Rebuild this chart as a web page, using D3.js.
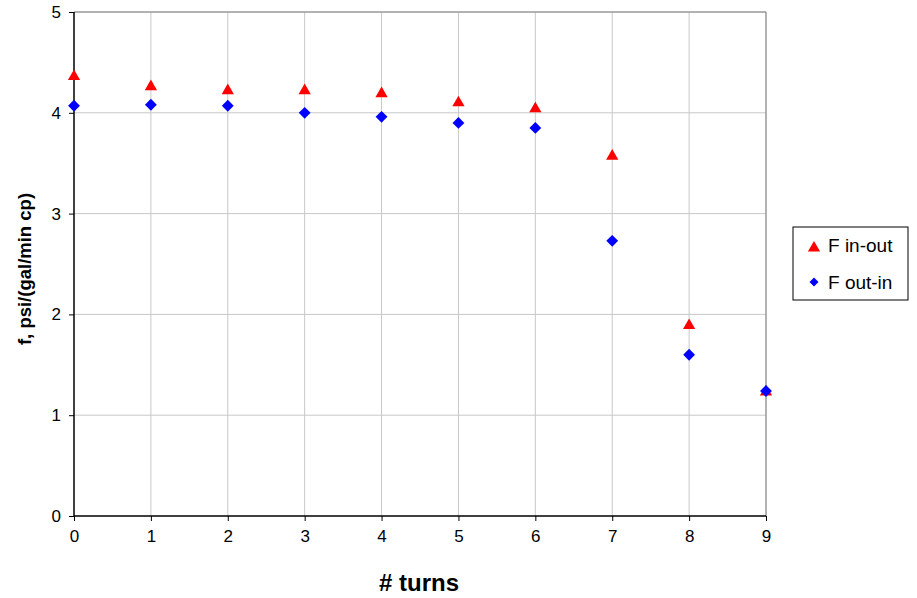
<html>
<head>
<script src="https://d3js.org/d3.v7.min.js"></script>
<style>body{margin:0;background:#fff;font-family:"Liberation Sans",Arial,sans-serif;}</style>
</head>
<body>
<svg id="chart" width="917" height="598" font-family="Liberation Sans, Arial, sans-serif"></svg>
<script>
var turns = [0, 1, 2, 3, 4, 5, 6, 7, 8, 9];
var fInOut = [4.35, 4.25, 4.21, 4.21, 4.18, 4.09, 4.03, 3.56, 1.88, 1.22];
var fOutIn = [4.07, 4.08, 4.07, 4.00, 3.96, 3.90, 3.85, 2.73, 1.60, 1.24];
var xTicks = [0, 1, 2, 3, 4, 5, 6, 7, 8, 9];
var yTicks = [0, 1, 2, 3, 4, 5];

var svg = d3.select("#chart");
var margin = {top: 12, right: 151, bottom: 82, left: 74},
    width = 917 - margin.left - margin.right,
    height = 598 - margin.top - margin.bottom;

var g = svg.append("g").attr("transform", "translate(" + margin.left + "," + margin.top + ")");

var x = d3.scaleLinear().domain([0, 9]).range([0, width]);
var y = d3.scaleLinear().domain([0, 5]).range([height, 0]);

// grid
g.selectAll(".vgrid").data(xTicks.slice(1)).enter().append("line")
    .attr("x1", function (d) {return x(d);}).attr("x2", function (d) {return x(d);})
    .attr("y1", 0).attr("y2", height)
    .attr("stroke", "#c8c8c8").attr("stroke-width", 1);
g.selectAll(".hgrid").data(yTicks.slice(1)).enter().append("line")
    .attr("y1", function (d) {return y(d);}).attr("y2", function (d) {return y(d);})
    .attr("x1", 0).attr("x2", width)
    .attr("stroke", "#c8c8c8").attr("stroke-width", 1);

// frame top/right
g.append("line").attr("x1", 0).attr("x2", width).attr("y1", 0).attr("y2", 0)
    .attr("stroke", "#808080").attr("stroke-width", 1);
g.append("line").attr("x1", width).attr("x2", width).attr("y1", 0).attr("y2", height)
    .attr("stroke", "#808080").attr("stroke-width", 1);

// axes
var xAxis = d3.axisBottom(x).tickValues(xTicks).tickSize(5).tickPadding(9).tickFormat(d3.format("d"));
var yAxis = d3.axisLeft(y).tickValues(yTicks).tickSize(5).tickPadding(8).tickFormat(d3.format("d"));

var gx = g.append("g").attr("transform", "translate(0," + height + ")").call(xAxis);
var gy = g.append("g").call(yAxis);
[gx, gy].forEach(function (a) {
    a.attr("font-family", null);
    a.select(".domain").attr("stroke", "#000").attr("stroke-width", 1.5);
    a.selectAll(".tick line").attr("stroke", "#000");
    a.selectAll(".tick text").attr("fill", "#000").style("font-size", "17px");
});
gx.select(".domain").attr("d", "M0,0H" + width);
gy.select(".domain").attr("d", "M0," + height + "V0");

// labels
svg.append("text")
    .attr("x", 419).attr("y", 591)
    .attr("text-anchor", "middle")
    .attr("font-weight", "bold").attr("font-size", 24)
    .text("# turns");
svg.append("text")
    .attr("transform", "translate(31,269) rotate(-90)")
    .attr("text-anchor", "middle")
    .attr("font-weight", "bold").attr("font-size", 18.5)
    .text("f, psi/(gal/min cp)");

// points
var tri = d3.symbol().type(d3.symbolTriangle).size(65);
var dia = d3.symbol().type(d3.symbolSquare).size(70);

g.selectAll(".tri").data(turns).enter().append("path")
    .attr("d", tri)
    .attr("transform", function (d, i) {return "translate(" + x(d) + "," + (y(fInOut[i]) - 1) + ")";})
    .attr("fill", "#ff0000");
g.selectAll(".dia").data(turns).enter().append("path")
    .attr("d", dia)
    .attr("transform", function (d, i) {return "translate(" + x(d) + "," + y(fOutIn[i]) + ") rotate(45)";})
    .attr("fill", "#0000ff");

// legend
var leg = svg.append("g").attr("transform", "translate(793,227)");
leg.append("rect").attr("width", 115).attr("height", 73)
    .attr("fill", "#fff").attr("stroke", "#000").attr("stroke-width", 1);
leg.append("path").attr("d", tri).attr("transform", "translate(21,21)").attr("fill", "#ff0000");
leg.append("path").attr("d", d3.symbol().type(d3.symbolSquare).size(40))
    .attr("transform", "translate(21,55) rotate(45)").attr("fill", "#0000ff");
leg.append("text").attr("x", 35).attr("y", 25).attr("font-size", 19).text("F in-out");
leg.append("text").attr("x", 35).attr("y", 62).attr("font-size", 19).text("F out-in");
</script>
</body>
</html>
